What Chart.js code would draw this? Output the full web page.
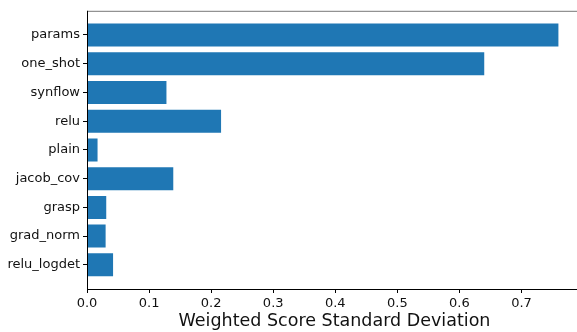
<!DOCTYPE html>
<html>
<head>
<meta charset="utf-8">
<script src="https://cdn.jsdelivr.net/npm/chart.js@4"></script>
<style>
  html, body { margin: 0; padding: 0; background: #fff; overflow: hidden; }
  #wrap { width: 582px; height: 332px; }
</style>
</head>
<body>
<div id="wrap"><canvas id="grafico"></canvas></div>
<script>
// metodos e desvio padrao ponderado
const metodos = ["params", "one_shot", "synflow", "relu", "plain", "jacob_cov", "grasp", "grad_norm", "relu_logdet"];
const desvios = [0.7595, 0.640, 0.128, 0.216, 0.017, 0.139, 0.031, 0.030, 0.042];
const ticksX = [0, 0.1, 0.2, 0.3, 0.4, 0.5, 0.6, 0.7];

const pontos = desvios.map((v, i) => ({ x: v, y: i }));

// linhas do quadro (topo cinza, como na figura)
const molduraPlugin = {
    id: 'moldura',
    afterDraw(chart) {
        const a = chart.chartArea;
        const ctx = chart.ctx;
        ctx.save();
        ctx.strokeStyle = '#777';
        ctx.lineWidth = 1;
        ctx.beginPath();
        ctx.moveTo(a.left, a.top + 0.5);
        ctx.lineTo(a.right, a.top + 0.5);
        ctx.stroke();
        ctx.strokeStyle = '#000';
        ctx.beginPath();
        ctx.moveTo(a.left + 0.5, a.top);
        ctx.lineTo(a.left + 0.5, a.bottom);
        ctx.moveTo(a.left, a.bottom + 0.5);
        ctx.lineTo(a.right, a.bottom + 0.5);
        ctx.stroke();
        ctx.restore();
    }
};

let grafico = new Chart(document.getElementById('grafico'), {
    type: 'bar',
    data: {
        datasets: [{
            data: pontos,
            backgroundColor: '#1f77b4',
            borderWidth: 0,
            barPercentage: 0.8,
            categoryPercentage: 1
        }]
    },
    options: {
        indexAxis: 'y',
        responsive: true,
        maintainAspectRatio: false,
        animation: false,
        layout: { padding: { top: 9, left: 0, right: 0, bottom: 0 } },
        plugins: {
            legend: { display: false },
            tooltip: { enabled: false }
        },
        scales: {
            x: {
                type: 'linear',
                min: 0,
                max: 0.7975,
                afterBuildTicks(scale) {
                    scale.ticks = ticksX.map(v => ({ value: v }));
                },
                afterFit(scale) { scale.height = 43; },
                border: { display: false },
                grid: {
                    drawOnChartArea: false,
                    drawTicks: true,
                    tickLength: 4,
                    color: '#000'
                },
                ticks: {
                    color: '#111',
                    padding: 3,
                    font: { family: 'DejaVu Sans', size: 13 },
                    callback: v => v.toFixed(1)
                },
                title: {
                    display: true,
                    text: 'Weighted Score Standard Deviation',
                    color: '#111',
                    font: { family: 'DejaVu Sans', size: 17.5 },
                    padding: { top: 2, bottom: 0 }
                }
            },
            y: {
                type: 'linear',
                reverse: true,
                offset: false,
                min: -0.84,
                max: 8.84,
                afterBuildTicks(scale) {
                    scale.ticks = metodos.map((m, i) => ({ value: i }));
                },
                afterFit(scale) { scale.width = 87; },
                border: { display: false },
                grid: {
                    offset: false,
                    drawOnChartArea: false,
                    drawTicks: true,
                    tickLength: 4,
                    color: '#000'
                },
                ticks: {
                    color: '#111',
                    padding: 3,
                    font: { family: 'DejaVu Sans', size: 13 },
                    callback: (v) => metodos[v]
                }
            }
        }
    },
    plugins: [molduraPlugin]
});
</script>
</body>
</html>
